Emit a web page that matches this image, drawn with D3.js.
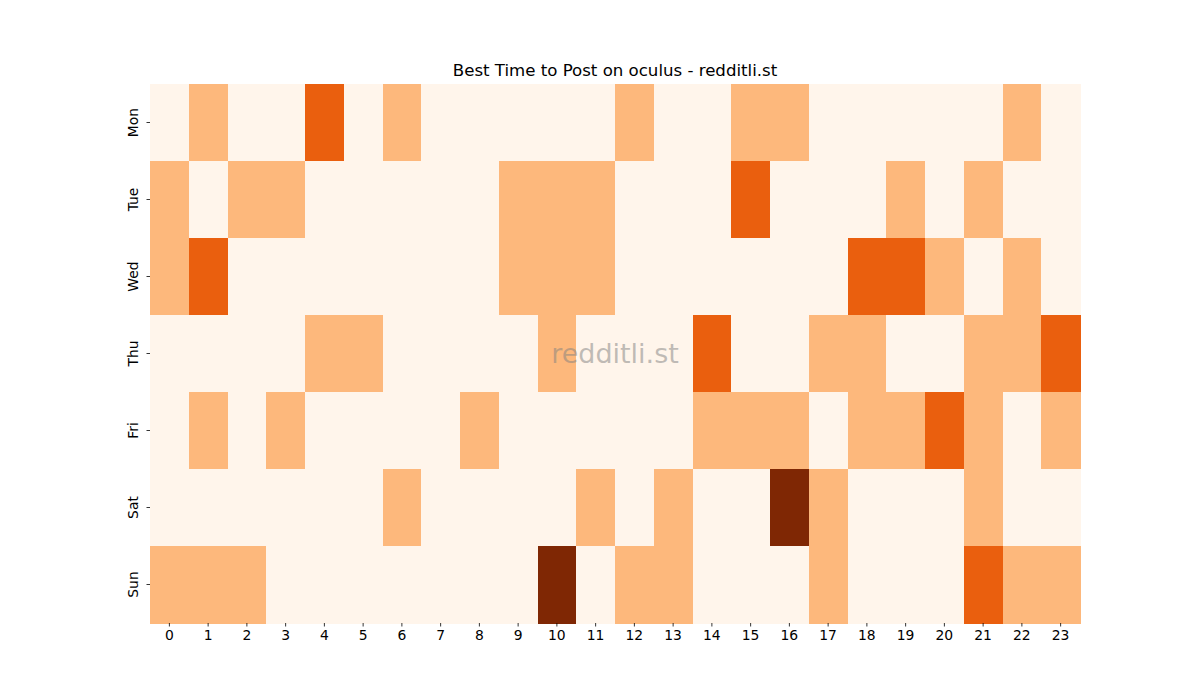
<!DOCTYPE html>
<html><head><meta charset="utf-8">
<script src="https://cdn.jsdelivr.net/npm/d3@7"></script>
<style>body{margin:0;background:#fff}svg text{font-family:"DejaVu Sans",sans-serif}</style>
</head><body><svg id="c" width="1200" height="700"></svg>
<script>
const hours = d3.range(24).map(String);
const days = ["Mon","Tue","Wed","Thu","Fri","Sat","Sun"];
const mon = [0,1,0,0,2,0,1,0,0,0,0,0,1,0,0,1,1,0,0,0,0,0,1,0];
const tue = [1,0,1,1,0,0,0,0,0,1,1,1,0,0,0,2,0,0,0,1,0,1,0,0];
const wed = [1,2,0,0,0,0,0,0,0,1,1,1,0,0,0,0,0,0,2,2,1,0,1,0];
const thu = [0,0,0,0,1,1,0,0,0,0,1,0,0,0,2,0,0,1,1,0,0,1,1,2];
const fri = [0,1,0,1,0,0,0,0,1,0,0,0,0,0,1,1,1,0,1,1,2,1,0,1];
const sat = [0,0,0,0,0,0,1,0,0,0,0,1,0,1,0,0,3,1,0,0,0,1,0,0];
const sun = [1,1,1,0,0,0,0,0,0,0,3,0,1,1,0,0,0,1,0,0,0,2,1,1];
const rows = [mon,tue,wed,thu,fri,sat,sun];
const levelColors = ["#fff5eb","#fdb87c","#ea5f0e","#7f2704"];

const svg = d3.select("#c");
const x = d3.scaleBand().domain(hours).range([150,1080]);
const y = d3.scaleBand().domain(days).range([84,623]);
const color = d3.scaleOrdinal().domain([0,1,2,3]).range(levelColors);

const cells = [];
rows.forEach((r,i)=>r.forEach((v,j)=>cells.push({day:days[i],hour:hours[j],v})));
svg.append("g").attr("shape-rendering","crispEdges").selectAll("rect").data(cells).join("rect")
  .attr("x",d=>x(d.hour)).attr("y",d=>y(d.day))
  .attr("width",x.bandwidth()+0.5).attr("height",y.bandwidth()+0.5)
  .attr("fill",d=>color(d.v));

const xa = svg.append("g").attr("transform","translate(0,623)")
  .call(d3.axisBottom(x).tickSize(3.5).tickPadding(3.5));
xa.select(".domain").remove();
xa.selectAll("text").attr("font-size","13.9px").attr("fill","#000").style("font-family","DejaVu Sans");
xa.selectAll("line").attr("stroke","#000").attr("stroke-width",0.8);

const ya = svg.append("g").attr("transform","translate(150,0)")
  .call(d3.axisLeft(y).tickSize(3.5).tickPadding(3.5));
ya.select(".domain").remove();
ya.selectAll("line").attr("stroke","#000").attr("stroke-width",0.8);
ya.selectAll("text").attr("font-size","13.9px").attr("fill","#000").style("font-family","DejaVu Sans")
  .attr("text-anchor","middle").attr("dy",null).attr("x",null)
  .attr("transform","translate(-17,0) rotate(-90)").attr("dominant-baseline","auto").attr("y",5);

svg.append("text").attr("x",615).attr("y",76).attr("text-anchor","middle")
  .attr("font-size","16.6px").attr("fill","#000").text("Best Time to Post on oculus - redditli.st");

svg.append("text").attr("x",615).attr("y",363).attr("text-anchor","middle")
  .attr("font-size","27px").attr("fill","#808080").attr("fill-opacity",0.5).text("redditli.st");
</script></body></html>
